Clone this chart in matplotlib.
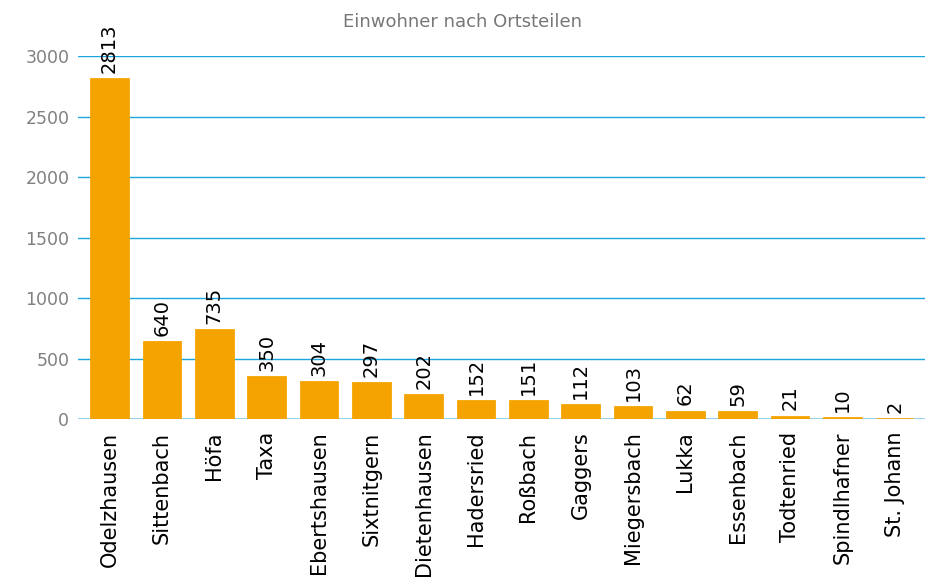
import matplotlib
matplotlib.use('Agg')
import matplotlib.pyplot as plt

ortsteile = ['Odelzhausen', 'Sittenbach', 'Höfa', 'Taxa', 'Ebertshausen', 'Sixtnitgern',
             'Dietenhausen', 'Hadersried', 'Roßbach', 'Gaggers', 'Miegersbach', 'Lukka',
             'Essenbach', 'Todtenried', 'Spindlhafner', 'St. Johann']
einwohner = [2813, 640, 735, 350, 304, 297, 202, 152, 151, 112, 103, 62, 59, 21, 10, 2]
yticks = [0, 500, 1000, 1500, 2000, 2500, 3000]

plt.rcParams['font.family'] = ['DejaVu Sans']

fig = plt.figure(figsize=(9.25, 5.78), dpi=100)
ax = fig.add_axes([0.084, 0.275, 0.916, 0.628])

x = range(len(ortsteile))
ax.bar(x, einwohner, width=0.70, color='#f5a300', edgecolor='#f5a300',
       linewidth=2, zorder=3)

for i, v in enumerate(einwohner):
    ax.text(i, v + 50, str(v), rotation=90, ha='center', va='bottom',
            fontsize=14, color='black', clip_on=False, zorder=4)

ax.set_ylim(0, 3000)
ax.set_xlim(-0.61, 15.58)
ax.set_yticks(yticks)
ax.set_yticklabels([str(t) for t in yticks], color='#808080', fontsize=12.5)
ax.set_xticks(list(x))
ax.set_xticklabels(ortsteile, rotation=90, fontsize=15, color='black')
ax.tick_params(axis='y', length=0, pad=6)
ax.tick_params(axis='x', length=0, pad=9)

ax.grid(axis='y', color='#1aa7e0', linewidth=1, zorder=0)
ax.axhline(0, color='#8fd0ee', linewidth=2, zorder=2)
for s in ax.spines.values():
    s.set_visible(False)

fig.text(0.5, 0.962, 'Einwohner nach Ortsteilen', ha='center', va='center',
         fontsize=13, color='#777777')

fig.savefig('out.png', dpi=100)
